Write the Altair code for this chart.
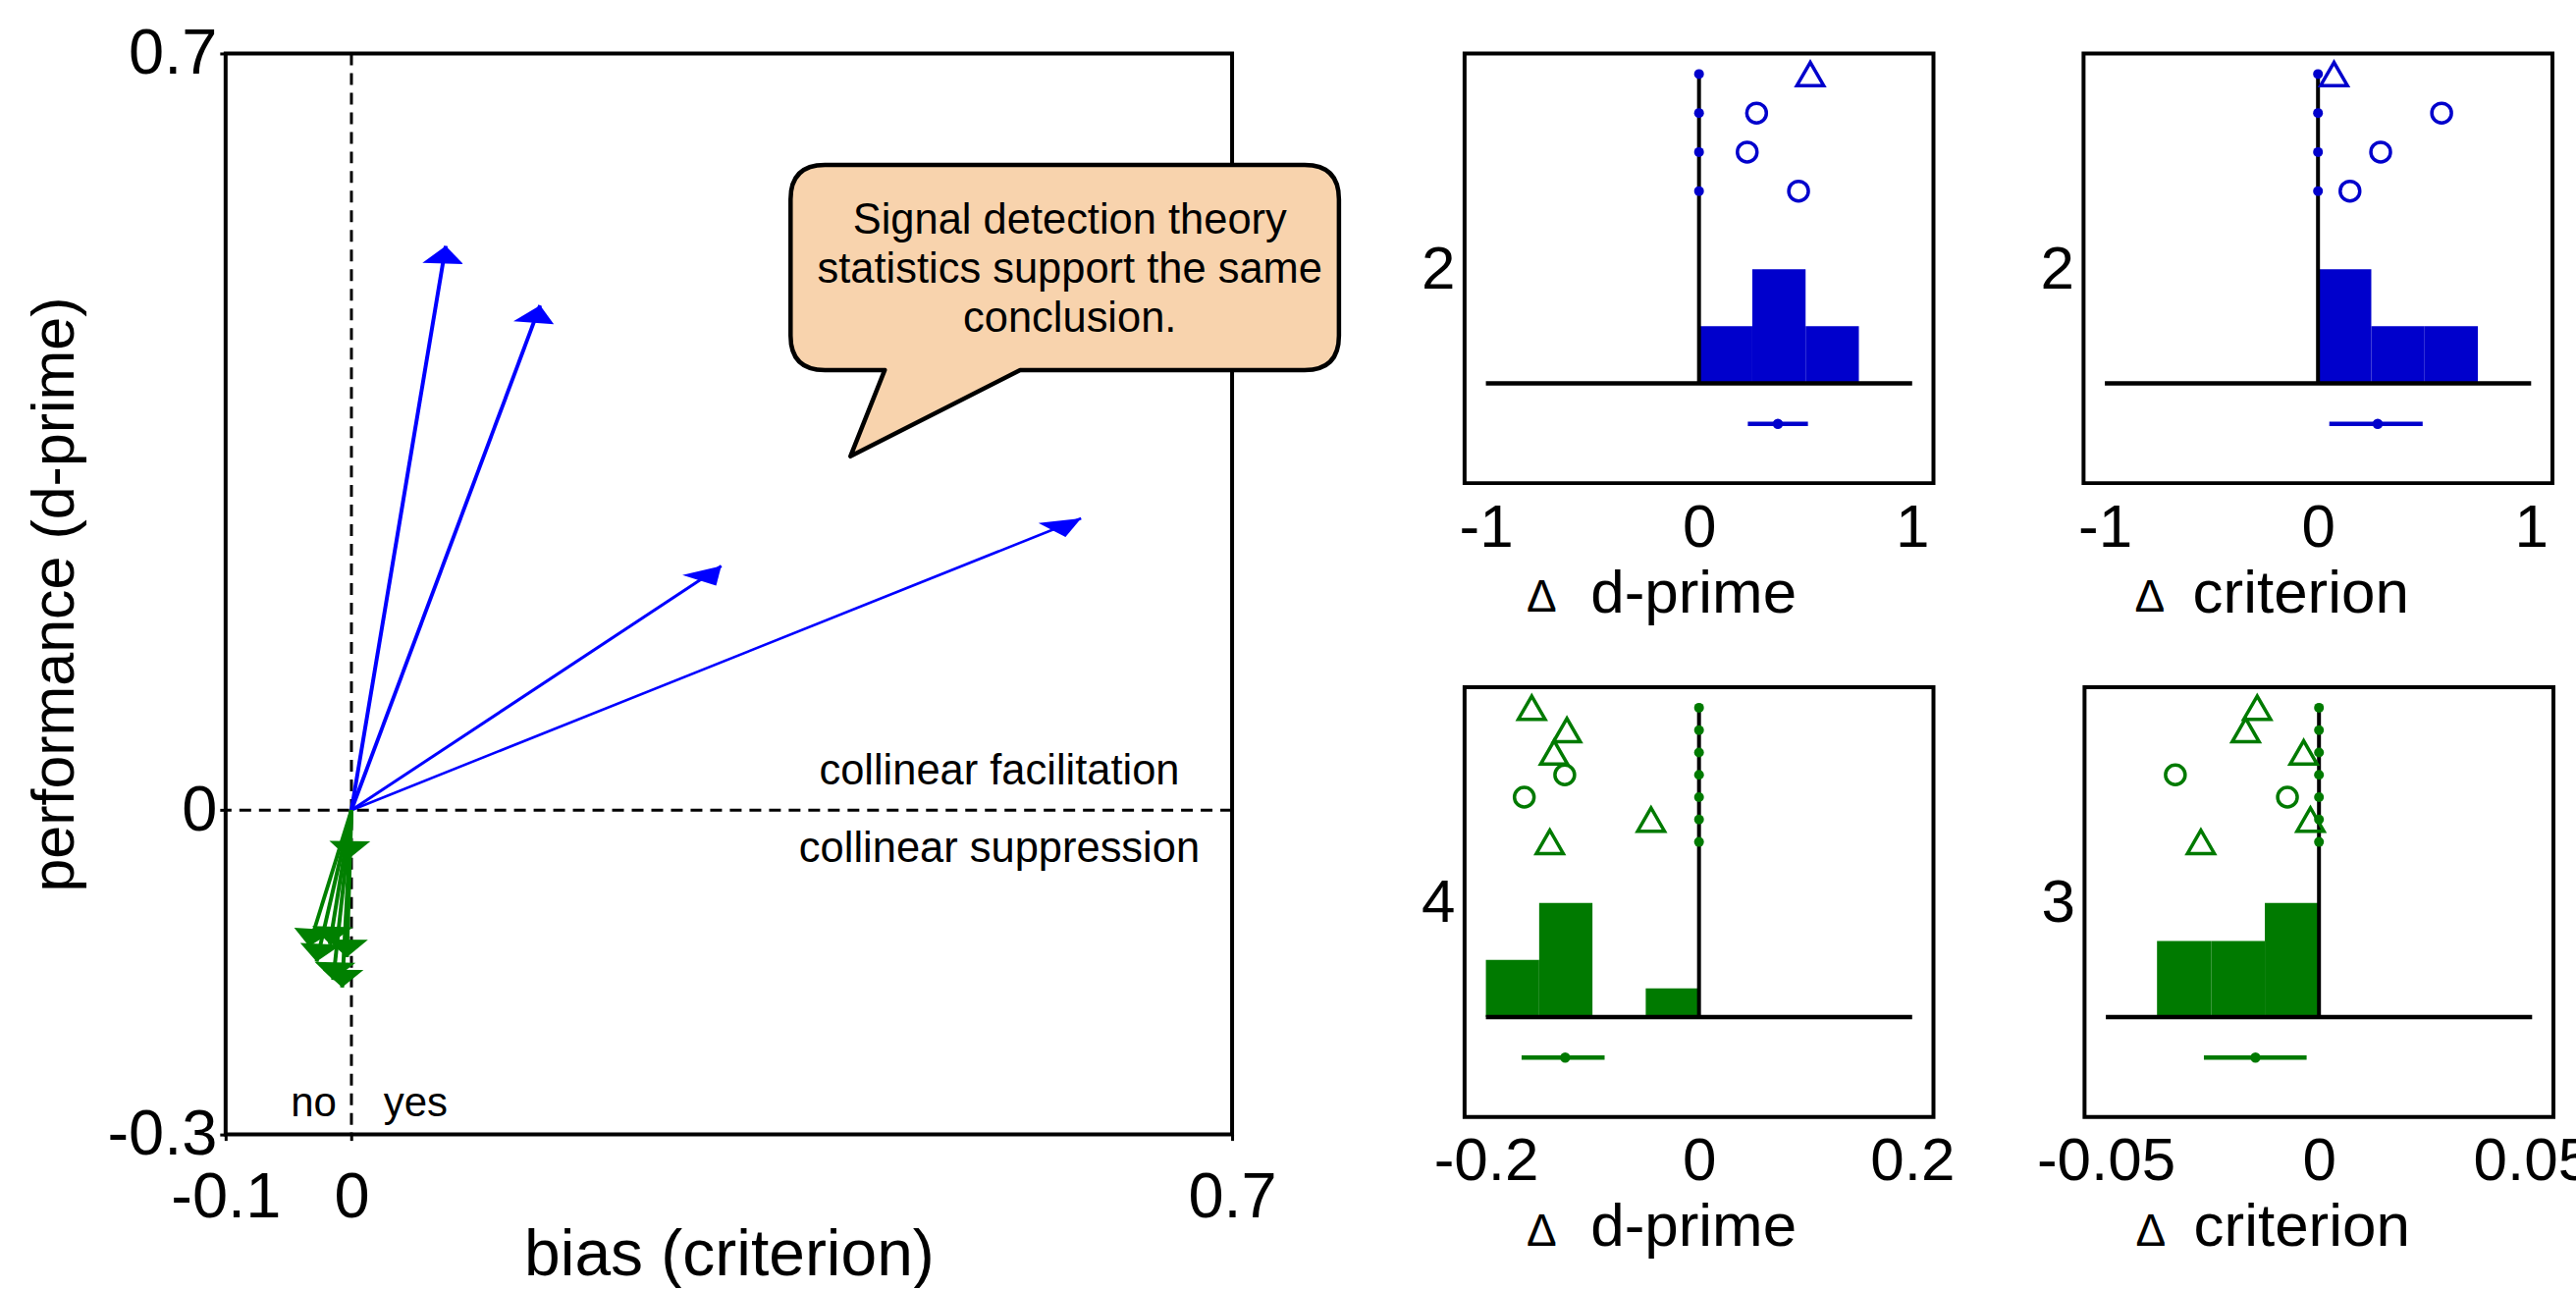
import altair as alt
import pandas as pd

FONT = "Liberation Sans"

# ---------------- data ----------------
# change of d-prime (performance) and criterion (bias) per observer
blue_dprime = [0.522, 0.270, 0.226, 0.467]
blue_criterion = [0.075, 0.580, 0.294, 0.150]
blue_marker = ["triangle", "circle", "circle", "circle"]

green_dprime = [-0.157, -0.124, -0.136, -0.126, -0.164, -0.045, -0.140]
green_criterion = [-0.0145, -0.0172, -0.0036, -0.0337, -0.0074, -0.0020, -0.0277]
green_marker = ["triangle", "triangle", "triangle", "circle", "circle", "triangle", "triangle"]

# histograms (bin edges, counts)
hist_dprime_blue_edges = [0, 0.25, 0.5, 0.75]
hist_dprime_blue_counts = [1, 2, 1]
hist_crit_blue_edges = [0, 0.25, 0.5, 0.75]
hist_crit_blue_counts = [2, 1, 1]
hist_dprime_green_edges = [-0.2, -0.15, -0.1, -0.05, 0]
hist_dprime_green_counts = [2, 4, 0, 1]
hist_crit_green_edges = [-0.038, -0.0253, -0.0127, 0]
hist_crit_green_counts = [2, 2, 3]

# mean, CI low, CI high
mean_ci_dprime_blue = [0.370, 0.229, 0.511]
mean_ci_crit_blue = [0.280, 0.053, 0.491]
mean_ci_dprime_green = [-0.1256, -0.1665, -0.0886]
mean_ci_crit_green = [-0.0149, -0.0270, -0.0029]

main_x_ticks = [-0.1, 0, 0.7]
main_y_ticks = [-0.3, 0, 0.7]
ticks_blue = [-1, 0, 1]
ticks_dprime_green = [-0.2, 0, 0.2]
ticks_crit_green = [-0.05, 0, 0.05]

annot_text = ["collinear facilitation", "collinear suppression", "no", "yes"]
annot_x = [0.515, 0.515, -0.030, 0.051]
annot_y = [0.036, -0.036, -0.271, -0.271]
annot_size = [43.5, 43.5, 42, 42]
bubble_lines = ["Signal detection theory", "statistics support the same", "conclusion."]

# ---------------- styles ----------------
BLUE_MAIN, GREEN_MAIN = "#0000FF", "#008000"
BLUE_SUB, GREEN_SUB = "#0000CC", "#007A00"
PEACH = "#F8D3AD"

W, H = 1026, 1102
XD, YD = [-0.1, 0.7], [-0.3, 0.7]
SX = W / (XD[1] - XD[0])
SY = H / (YD[1] - YD[0])

# arrow head geometry (px): length, half width, horizontal stretch of the original figure
HL, HW, HS = 18, 9.5, 2.2

BUBBLE = ("M-244.5,-104.5 L244.5,-104.5 Q279.5,-104.5 279.5,-69.5 L279.5,69.5 "
          "Q279.5,104.5 244.5,104.5 L-45.5,104.5 L-218.5,192.5 L-183.5,104.5 "
          "L-244.5,104.5 Q-279.5,104.5 -279.5,69.5 L-279.5,-69.5 "
          "Q-279.5,-104.5 -244.5,-104.5 Z")

LABEL_EXPR = "'' + datum.value"

# ---------------- main panel ----------------
xs = alt.Scale(domain=XD, nice=False, zero=False)
ys = alt.Scale(domain=YD, nice=False, zero=False)

x_axis = alt.Axis(values=main_x_ticks, labelExpr=LABEL_EXPR, labelFont=FONT, labelFontSize=65,
                  labelColor="black", labelPadding=27, labelFlush=False, labelOverlap=False,
                  tickSize=6, tickWidth=3, tickColor="black", domain=False, grid=False,
                  title="bias (criterion)", titleFont=FONT, titleFontSize=66,
                  titleFontWeight="normal", titleColor="black", titleX=W / 2, titleY=91,
                  titleBaseline="top")
y_axis = alt.Axis(values=main_y_ticks, labelExpr=LABEL_EXPR, labelFont=FONT, labelFontSize=65,
                  labelColor="black", labelPadding=3, labelFlush=False, labelOverlap=False,
                  tickSize=6, tickWidth=3, tickColor="black", domain=False, grid=False,
                  title="performance (d-prime)", titleFont=FONT, titleFontSize=61,
                  titleFontWeight="normal", titleColor="black", titleX=-155, titleY=H / 2,
                  titleAngle=270, titleBaseline="alphabetic", titleAlign="center")


def MX(field):
    return alt.X(field, scale=xs, axis=x_axis)


def MY(field):
    return alt.Y(field, scale=ys, axis=y_axis)


arrows = pd.DataFrame({
    "crit": blue_criterion + green_criterion,
    "dp": blue_dprime + green_dprime,
    "grp": ["facilitation"] * len(blue_dprime) + ["suppression"] * len(green_dprime),
})
arrows["x0"] = 0.0
arrows["y0"] = 0.0

color_main = alt.Color("grp:N", scale=alt.Scale(domain=["facilitation", "suppression"],
                                                range=[BLUE_MAIN, GREEN_MAIN]), legend=None)


def num(expr):
    # number -> plain ASCII string (hyphen minus), two decimals
    return f"('' + round(({expr})*100)/100)"


arrow_base = alt.Chart(arrows).transform_calculate(
    px=f"datum.crit*{SX}", py=f"datum.dp*{SY}",
).transform_calculate(
    lw="1.8 + 2.2*abs(datum.py)/sqrt(datum.px*datum.px + datum.py*datum.py)",
    ux0=f"datum.px/{HS}",
).transform_calculate(
    ux="datum.ux0/sqrt(datum.ux0*datum.ux0 + datum.py*datum.py)",
    uy="datum.py/sqrt(datum.ux0*datum.ux0 + datum.py*datum.py)",
).transform_calculate(
    hp=("'M0,0L' + " + num(f"{HS}*(-{HL}*datum.ux - {HW}*datum.uy)") + " + ',' + "
        + num(f"{HL}*datum.uy - {HW}*datum.ux") + " + 'L' + "
        + num(f"{HS}*(-{HL}*datum.ux + {HW}*datum.uy)") + " + ',' + "
        + num(f"{HL}*datum.uy + {HW}*datum.ux") + " + 'Z'"),
)

zero_df = pd.DataFrame({"v": [0.0]})
vdash = alt.Chart(zero_df).mark_rule(color="black", strokeWidth=3, strokeDash=[12, 8]).encode(
    x=MX("v:Q"))
hdash = alt.Chart(zero_df).mark_rule(color="black", strokeWidth=3, strokeDash=[12, 8]).encode(
    y=MY("v:Q"))

lines = arrow_base.mark_rule().encode(
    x=MX("x0:Q"), y=MY("y0:Q"), x2="crit:Q", y2="dp:Q", color=color_main,
    strokeWidth=alt.StrokeWidth("lw:Q", scale=None))

heads = arrow_base.mark_point(filled=True, size=4, opacity=1, strokeWidth=0).encode(
    x=MX("crit:Q"), y=MY("dp:Q"), color=color_main, shape=alt.Shape("hp:N", scale=None))

annots = pd.DataFrame({"t": annot_text, "x": annot_x, "y": annot_y, "fs": annot_size})
annot_layer = alt.Chart(annots).mark_text(font=FONT, color="black",
                                          align="center", baseline="middle").encode(
    x=MX("x:Q"), y=MY("y:Q"), text="t:N", size=alt.Size("fs:Q", scale=None))

frame_df = pd.DataFrame({"a": [0]})


def frame():
    return alt.Chart(frame_df).mark_rect(fill="transparent", stroke="black", strokeWidth=4).encode(
        x=alt.value(0), x2=alt.value("width"), y=alt.value(0), y2=alt.value("height"))


def top_spacer(px):
    # invisible block above a panel so that the panel tops line up with the main plot
    return alt.Chart(frame_df).mark_rect(fill="transparent", strokeWidth=0).encode(
        x=alt.value(0), x2=alt.value(1), y=alt.value(-px), y2=alt.value(0))


bubble_df = pd.DataFrame({"x": [0.567], "y": [0.502]})
bubble_text_df = pd.DataFrame({"x": [0.571], "y": [0.545]})
bubble = alt.Chart(bubble_df).mark_point(shape=BUBBLE, size=4, filled=True, fill=PEACH,
                                         stroke="black", strokeWidth=4.5, opacity=1,
                                         strokeJoin="round").encode(
    x=MX("x:Q"), y=MY("y:Q"))
bubble_text = alt.Chart(bubble_text_df).mark_text(font=FONT, fontSize=43.5, color="black",
                                                  align="center", baseline="middle",
                                                  lineHeight=50).encode(
    x=MX("x:Q"), y=MY("y:Q"), text=alt.value(bubble_lines))

main = alt.layer(vdash, hdash, frame(), lines, heads, annot_layer, bubble, bubble_text).properties(
    width=W, height=H)

# ---------------- small panels ----------------
PW, PH = 478, 438
TITLE_BASE = 131


def panel(values, markers, edges, counts, mci, xdom, xticks, color, title, title_x, delta_x,
          row_step, spacer=0):
    cmax = max(counts)
    xsc = alt.Scale(domain=xdom, nice=False, zero=False)
    ysc = alt.Scale(domain=[-0.875 * cmax, 2.89 * cmax], nice=False, zero=False)
    n = len(values)
    rows = [cmax * (2.71 - i * row_step) for i in range(n)]
    subj = pd.DataFrame({"v": values, "m": markers, "row": rows, "zero": [0.0] * n})
    hist = pd.DataFrame({"b0": edges[:-1], "b1": edges[1:], "c": counts, "base": [0] * len(counts)})
    misc = pd.DataFrame({"mean": [mci[0]], "lo": [mci[1]], "hi": [mci[2]],
                         "mrow": [-0.355 * cmax], "blo": [xticks[0]], "bhi": [xticks[-1]],
                         "zero": [0.0], "top": [rows[0]]})

    xa = alt.Axis(values=xticks, labelExpr=LABEL_EXPR, labelFont=FONT, labelFontSize=62,
                  labelColor="black", labelPadding=15, labelFlush=False, labelOverlap=False,
                  ticks=False, tickSize=0, domain=False, grid=False,
                  title=title, titleFont=FONT, titleFontSize=62, titleFontWeight="normal",
                  titleColor="black", titleX=title_x, titleY=TITLE_BASE,
                  titleBaseline="alphabetic", titleAlign="center")
    ya = alt.Axis(values=[cmax], labelExpr=LABEL_EXPR, labelFont=FONT, labelFontSize=62,
                  labelColor="black", labelPadding=10, labelOverlap=False, labelFlush=False,
                  ticks=False, tickSize=0, domain=False, grid=False, title="")

    def PX(f):
        return alt.X(f, scale=xsc, axis=xa)

    def PY(f):
        return alt.Y(f, scale=ysc, axis=ya)

    bars = alt.Chart(hist).mark_rect(color=color).encode(
        x=PX("b0:Q"), x2="b1:Q", y=PY("base:Q"), y2="c:Q")
    baseline = alt.Chart(misc).mark_rule(color="black", strokeWidth=4.5).encode(
        x=PX("blo:Q"), x2="bhi:Q", y=PY("zero:Q"))
    stem = alt.Chart(misc).mark_rule(color="black", strokeWidth=4).encode(
        x=PX("zero:Q"), y=PY("zero:Q"), y2="top:Q")
    stem_dots = alt.Chart(subj).mark_point(filled=True, shape="circle", size=100, color=color,
                                           opacity=1).encode(x=PX("zero:Q"), y=PY("row:Q"))
    circles = alt.Chart(subj).transform_filter("datum.m == 'circle'").mark_point(
        shape="circle", filled=False, size=400, strokeWidth=3.5, color=color, opacity=1).encode(
        x=PX("v:Q"), y=PY("row:Q"))
    tris = alt.Chart(subj).transform_filter("datum.m == 'triangle'").mark_point(
        shape="triangle-up", filled=False, size=750, strokeWidth=3.5, color=color, opacity=1).encode(
        x=PX("v:Q"), y=PY("row:Q"))
    ci = alt.Chart(misc).mark_rule(color=color, strokeWidth=4.5).encode(
        x=PX("lo:Q"), x2="hi:Q", y=PY("mrow:Q"))
    mdot = alt.Chart(misc).mark_point(filled=True, shape="circle", size=110, color=color,
                                      opacity=1).encode(x=PX("mean:Q"), y=PY("mrow:Q"))
    delta = alt.Chart(frame_df).mark_text(text="Δ", font=FONT, fontSize=46, color="black",
                                          align="center", baseline="alphabetic").encode(
        x=alt.value(delta_x), y=alt.value(PH + TITLE_BASE))
    layers = [bars, baseline, stem, stem_dots, circles, tris, ci, mdot, frame(), delta]
    if spacer:
        layers.append(top_spacer(spacer))
    return alt.layer(*layers).properties(width=PW, height=PH)


tl = panel(blue_dprime, blue_marker, hist_dprime_blue_edges, hist_dprime_blue_counts,
           mean_ci_dprime_blue, [-1.1, 1.1], ticks_blue, BLUE_SUB, "d-prime", 233, 78.6,
           0.342, spacer=28.5)
tr = panel(blue_criterion, blue_marker, hist_crit_blue_edges, hist_crit_blue_counts,
           mean_ci_crit_blue, [-1.1, 1.1], ticks_blue, BLUE_SUB, "criterion", 221, 67.5,
           0.342, spacer=28.5)
bl = panel(green_dprime, green_marker, hist_dprime_green_edges, hist_dprime_green_counts,
           mean_ci_dprime_green, [-0.22, 0.22], ticks_dprime_green, GREEN_SUB, "d-prime", 233,
           78.6, 0.196)
br = panel(green_criterion, green_marker, hist_crit_green_edges, hist_crit_green_counts,
           mean_ci_crit_green, [-0.055, 0.055], ticks_crit_green, GREEN_SUB, "criterion", 221,
           67.5, 0.196)

right = alt.vconcat(
    alt.hconcat(tl, tr, spacing=106),
    alt.hconcat(bl, br, spacing=83),
    spacing=63)

# negative right padding crops the overhanging "0.05" label at the picture edge,
# as in the original figure
chart = alt.hconcat(main, right, spacing=80).properties(
    padding={"left": 26, "top": 22, "right": -16, "bottom": 0},
    background="white",
).configure_view(strokeWidth=0)

chart.save("out.html", embed_options={"renderer": "svg", "actions": False})
